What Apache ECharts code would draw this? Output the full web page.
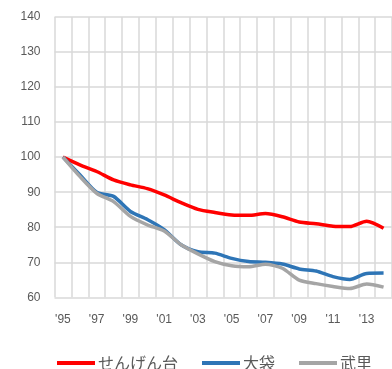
<!DOCTYPE html>
<html>
<head>
<meta charset="utf-8">
<script src="https://cdn.jsdelivr.net/npm/echarts@6/dist/echarts.min.js"></script>
<style>
  html, body { margin: 0; padding: 0; background: #fff; }
  #chart { width: 392px; height: 369px; }
</style>
</head>
<body>
<div id="chart"></div>
<script>
// Index of population (1995 = 100) for three districts
const years = ["'95", "'96", "'97", "'98", "'99", "'00", "'01", "'02", "'03", "'04",
               "'05", "'06", "'07", "'08", "'09", "'10", "'11", "'12", "'13", "'14"];
const sengendai = [100, 97.8, 95.9, 93.5, 92.1, 91.0, 89.2, 87.0, 85.1, 84.2,
                   83.5, 83.4, 83.9, 83.0, 81.5, 81.0, 80.3, 80.2, 81.7, 79.7];
const ofukuro   = [100, 95.0, 90.0, 88.8, 84.5, 82.2, 79.3, 75.0, 73.0, 72.6,
                   71.1, 70.2, 70.0, 69.5, 68.1, 67.5, 65.9, 65.1, 66.8, 66.9];
const takesato  = [100, 94.5, 89.7, 87.3, 83.1, 80.7, 78.9, 75.0, 72.4, 70.2,
                   69.0, 68.7, 69.4, 68.3, 64.9, 63.9, 63.1, 62.5, 63.8, 62.9];
const seriesNames = ['せんげん台', '大袋', '武里'];
const seriesColors = ['#ff0000', '#2e75b6', '#a5a5a5'];
const yTicks = { min: 60, max: 140, step: 10 };

const chart = echarts.init(document.getElementById('chart'), null, { renderer: 'canvas' });

const gridLine = { show: true, lineStyle: { color: '#d9d9d9', width: 1.5 } };

function lineSeries(name, data, color) {
  return {
    name: name,
    type: 'line',
    data: data,
    smooth: 0.25,
    symbol: 'none',
    lineStyle: { color: color, width: 3.5 },
    itemStyle: { color: color }
  };
}

chart.setOption({
  animation: false,
  backgroundColor: '#ffffff',
  textStyle: { fontFamily: '"Noto Sans CJK JP", "Liberation Sans", sans-serif' },
  grid: { left: 54.5, top: 17, width: 340, bottom: 71.7, containLabel: false },
  legend: {
    data: seriesNames,
    left: 57,
    top: 355,
    padding: 0,
    itemWidth: 38,
    itemHeight: 4,
    itemGap: 24,
    icon: 'rect',
    textStyle: { color: '#595959', fontSize: 16, padding: [0, 0, 0, -2],
                 fontFamily: '"Noto Sans CJK JP", sans-serif' }
  },
  xAxis: {
    type: 'category',
    data: years,
    boundaryGap: true,
    axisLine: { show: false },
    axisTick: { show: false },
    splitLine: { show: true, interval: 0, lineStyle: { color: '#d9d9d9', width: 1.5 } },
    axisLabel: { interval: 1, color: '#595959', fontSize: 12, margin: 16,
                 fontFamily: '"Liberation Sans", sans-serif' }
  },
  yAxis: {
    type: 'value',
    min: yTicks.min,
    max: yTicks.max,
    interval: yTicks.step,
    axisLine: { show: false },
    axisTick: { show: false },
    splitLine: gridLine,
    axisLabel: { color: '#595959', fontSize: 12, margin: 14,
                 fontFamily: '"Liberation Sans", sans-serif' }
  },
  series: [
    lineSeries(seriesNames[0], sengendai, seriesColors[0]),
    lineSeries(seriesNames[1], ofukuro, seriesColors[1]),
    lineSeries(seriesNames[2], takesato, seriesColors[2])
  ]
});
</script>
</body>
</html>
